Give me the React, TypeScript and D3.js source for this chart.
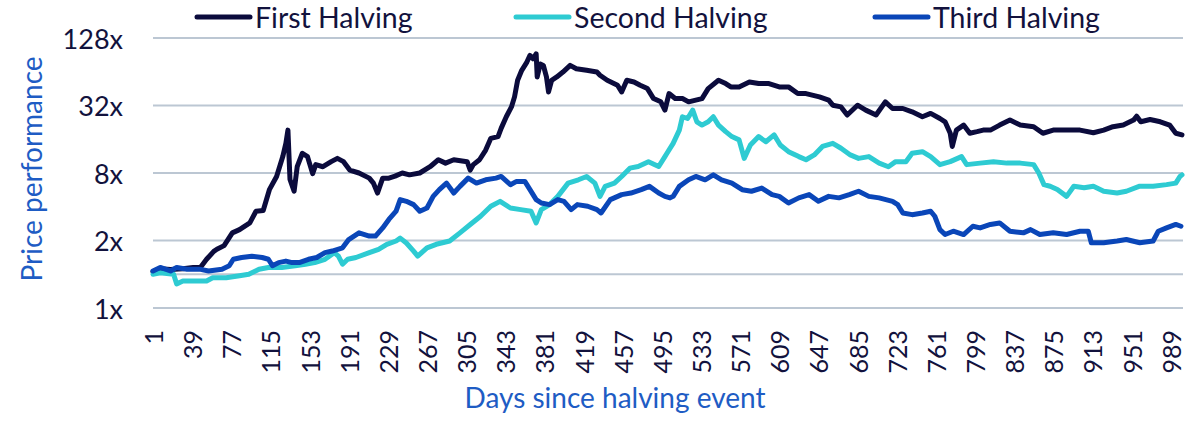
import * as d3 from 'd3';
import * as React from 'react';

// [day since halving, price multiple]
const firstHalving: [number, number][] = [
  [1, 1.05], [8, 1.12], [18, 1.1], [30, 1.12], [40, 1.15], [47, 1.15], [53, 1.36], [60, 1.6], [63, 1.67],
  [70, 1.8], [78, 2.34], [85, 2.5], [95, 2.87], [101, 3.65], [108, 3.7], [114, 5.68], [121, 7.45], [127, 11.2],
  [130, 14.7], [132, 19.3], [134, 7.0], [138, 5.5], [141, 9.1], [146, 12.0], [151, 11.2], [156, 7.9], [159, 9.5],
  [166, 9.1], [174, 10.1], [180, 10.8], [186, 10.1], [192, 8.5], [201, 8.0], [211, 7.2], [215, 6.5], [219, 5.3],
  [224, 7.2], [230, 7.2], [236, 7.5], [243, 8.0], [250, 7.7], [260, 8.0], [270, 9.1], [278, 10.5], [285, 9.8],
  [293, 10.5], [306, 10.1], [309, 8.5], [312, 9.5], [318, 10.5], [324, 12.8], [329, 16.3], [336, 16.9],
  [339, 20.0], [344, 25.4], [349, 31.1], [352, 38.2], [355, 53.7], [359, 65.9], [364, 78.1], [367, 89.5],
  [370, 83.6], [373, 92.6], [374, 57.5], [377, 75], [380, 72.9], [383, 57.5], [385, 42.3], [388, 53.7],
  [393, 57.5], [399, 63.6], [406, 72.9], [412, 68.1], [422, 65.9], [432, 63.6], [435, 59.5], [442, 53.7],
  [452, 48.5], [456, 42.3], [461, 53.7], [468, 51.9], [474, 48.5], [481, 45.3], [487, 36.9], [494, 34.5],
  [498, 29.1], [502, 40.9], [508, 36.9], [515, 36.9], [521, 34.5], [534, 36.9], [540, 45.3], [550, 53.7],
  [557, 50.2], [562, 46.9], [570, 46.9], [580, 51.9], [589, 50.2], [599, 50.2], [609, 46.9], [618, 46.9],
  [627, 40.9], [635, 40.9], [648, 38.2], [657, 35.7], [661, 32.2], [669, 31.1], [675, 26.3], [685, 32.2],
  [693, 29.1], [703, 26.3], [712, 34.5], [719, 30.1], [729, 30.1], [738, 28.1], [748, 25.4], [756, 27.2],
  [765, 24.5], [770, 22.9], [775, 18.1], [777, 13.8], [781, 19.3], [788, 21.4], [794, 18.1], [801, 18.7],
  [807, 19.3], [814, 19.3], [823, 21.4], [833, 23.7], [843, 21.4], [856, 20.7], [865, 18.1], [875, 19.3],
  [888, 19.3], [901, 19.3], [914, 18.3], [924, 19.3], [933, 20.7], [943, 21.4], [953, 23.7], [956, 25.7],
  [960, 22.9], [969, 24.0], [979, 22.9], [988, 21.4], [994, 18.1], [1000, 17.5],
];

const secondHalving: [number, number][] = [
  [1, 1.0], [8, 1.03], [21, 1.0], [24, 0.82], [30, 0.87], [40, 0.87], [53, 0.87], [59, 0.93], [72, 0.93],
  [85, 0.97], [94, 1.0], [104, 1.11], [113, 1.15], [126, 1.15], [139, 1.19], [149, 1.23], [158, 1.27],
  [168, 1.36], [177, 1.56], [181, 1.45], [185, 1.23], [190, 1.36], [198, 1.41], [211, 1.56], [220, 1.67],
  [228, 1.85], [237, 1.98], [241, 2.1], [247, 1.9], [254, 1.61], [258, 1.45], [267, 1.72], [276, 1.85],
  [289, 1.98], [299, 2.34], [309, 2.78], [319, 3.29], [329, 4.04], [338, 4.47], [348, 3.9], [358, 3.77],
  [368, 3.65], [373, 2.87], [378, 3.77], [386, 4.18], [394, 4.95], [404, 6.5], [414, 6.96], [422, 7.45],
  [430, 6.5], [435, 4.95], [440, 6.08], [449, 6.5], [456, 7.45], [464, 8.84], [472, 9.14], [482, 10.1],
  [492, 9.14], [498, 11.2], [500, 12.0], [506, 14.7], [512, 19.3], [515, 25.4], [520, 24.5], [525, 29.1],
  [529, 22.9], [534, 21.4], [540, 22.9], [545, 25.4], [550, 21.4], [557, 18.7], [563, 16.9], [570, 15.8],
  [575, 10.8], [581, 14.2], [589, 16.9], [596, 15.2], [604, 17.5], [610, 14.2], [618, 12.4], [628, 11.2],
  [635, 10.5], [643, 11.6], [651, 13.8], [661, 14.7], [669, 13.3], [678, 11.6], [686, 10.8], [696, 11.2],
  [706, 9.8], [715, 9.1], [722, 10.1], [732, 10.1], [738, 12.0], [748, 12.4], [756, 11.2], [765, 9.5],
  [775, 10.1], [786, 11.2], [791, 9.5], [804, 9.8], [817, 10.1], [830, 9.8], [843, 9.8], [856, 9.5],
  [861, 8.0], [866, 6.3], [872, 6.1], [879, 5.7], [888, 4.95], [895, 6.1], [905, 5.9], [914, 6.1],
  [924, 5.5], [937, 5.3], [946, 5.5], [959, 6.1], [972, 6.1], [985, 6.3], [994, 6.5], [998, 7.45], [1000, 7.7],
];

const thirdHalving: [number, number][] = [
  [1, 1.07], [8, 1.15], [18, 1.07], [24, 1.15], [34, 1.11], [46, 1.11], [55, 1.07], [68, 1.11], [75, 1.19],
  [79, 1.36], [87, 1.41], [97, 1.45], [107, 1.41], [113, 1.36], [117, 1.19], [123, 1.27], [130, 1.31],
  [136, 1.27], [143, 1.27], [152, 1.36], [160, 1.41], [168, 1.56], [175, 1.61], [185, 1.72], [191, 2.04],
  [201, 2.34], [211, 2.19], [217, 2.19], [224, 2.59], [230, 3.08], [237, 3.65], [241, 4.63], [247, 4.47],
  [254, 4.18], [260, 3.65], [267, 3.9], [273, 4.95], [279, 5.68], [286, 6.5], [293, 5.3], [299, 6.08],
  [307, 7.2], [315, 6.5], [324, 6.96], [334, 7.2], [339, 7.45], [348, 6.29], [354, 6.73], [362, 6.73],
  [367, 5.68], [373, 4.63], [378, 4.32], [386, 4.18], [394, 4.63], [400, 4.47], [407, 3.77], [413, 4.18],
  [423, 4.04], [432, 3.77], [436, 3.52], [445, 4.63], [456, 5.13], [465, 5.3], [475, 5.68], [483, 6.08],
  [492, 5.3], [498, 4.95], [503, 4.8], [506, 4.95], [512, 6.08], [521, 6.96], [528, 7.45], [537, 6.96],
  [545, 7.7], [553, 6.96], [563, 6.5], [573, 5.68], [582, 5.5], [592, 5.87], [602, 5.13], [609, 4.95],
  [618, 4.32], [628, 4.8], [638, 5.13], [647, 4.47], [657, 4.95], [667, 4.8], [677, 5.13], [686, 5.5],
  [696, 4.95], [706, 4.8], [719, 4.47], [724, 4.18], [729, 3.52], [738, 3.4], [748, 3.52], [756, 3.65],
  [760, 3.29], [765, 2.5], [770, 2.26], [778, 2.42], [788, 2.26], [797, 2.68], [804, 2.59], [814, 2.78],
  [823, 2.87], [833, 2.42], [846, 2.34], [853, 2.5], [862, 2.26], [875, 2.34], [888, 2.26], [901, 2.42],
  [909, 2.42], [912, 1.91], [924, 1.91], [937, 1.98], [946, 2.04], [959, 1.91], [972, 1.98], [977, 2.42],
  [985, 2.59], [994, 2.78], [999, 2.68],
];

const seriesNames = ['First Halving', 'Second Halving', 'Third Halving'];
const seriesColors = ['#0b0b3c', '#2ecbd2', '#0a46b8'];

const xTickDays = [1, 39, 77, 115, 153, 191, 229, 267, 305, 343, 381, 419, 457, 495, 533, 571, 609, 647, 685, 723, 761, 799, 837, 875, 913, 951, 989];
const yGridValues = [0.5, 1, 2, 8, 32, 128];
const yTickValues = [0.5, 2, 8, 32, 128];
const yTickLabels = ['1x', '2x', '8x', '32x', '128x'];

const width = 1200;
const height = 432;
const font = 'Lato, "Open Sans", sans-serif';
const textColor = '#12123d';
const titleColor = '#1e5cc4';

export default function App() {
  const x = d3.scaleLinear().domain([1, 1001]).range([153, 1183]);
  const y = d3.scaleLog().base(2).domain([0.5, 128]).range([308, 38]);

  const line = d3
    .line<[number, number]>()
    .x((d) => x(d[0]))
    .y((d) => y(d[1]));

  const allSeries = [firstHalving, secondHalving, thirdHalving];
  const legendX = [197, 516, 875];

  return (
    <svg
      width={width}
      height={height}
      style={{ position: 'absolute', left: 0, top: 0, background: '#fff' }}
      fontFamily={font}
    >
      {/* grid */}
      {yGridValues.map((v) => (
        <line key={v} x1={153} x2={1183} y1={y(v)} y2={y(v)} stroke="#bcc7d3" strokeWidth={2} />
      ))}

      {/* y labels */}
      {yTickValues.map((v, i) => (
        <text key={v} x={123} y={y(v)} textAnchor="end" dominantBaseline="central" fontSize={27} fill={textColor}>
          {yTickLabels[i]}
        </text>
      ))}

      {/* x labels */}
      {xTickDays.map((d) => (
        <text
          key={d}
          transform={`translate(${x(d)},330) rotate(-90)`}
          textAnchor="end"
          dominantBaseline="central"
          fontSize={25}
          fill={textColor}
        >
          {d}
        </text>
      ))}

      {/* series */}
      {allSeries.map((s, i) => (
        <path
          key={seriesNames[i]}
          d={line(s) ?? ''}
          fill="none"
          stroke={seriesColors[i]}
          strokeWidth={5}
          strokeLinejoin="round"
          strokeLinecap="round"
        />
      ))}

      {/* legend */}
      {seriesNames.map((name, i) => (
        <g key={name} transform={`translate(${legendX[i]},17)`}>
          <line x1={0} x2={53} y1={0} y2={0} stroke={seriesColors[i]} strokeWidth={5} strokeLinecap="round" />
          <text x={58} y={0} dominantBaseline="central" fontSize={28.5} fill={textColor}>
            {name}
          </text>
        </g>
      ))}

      {/* axis titles */}
      <text transform="translate(42,169) rotate(-90)" textAnchor="middle" fontSize={28} fill={titleColor}>
        Price performance
      </text>
      <text x={615} y={408} textAnchor="middle" fontSize={28} fill={titleColor}>
        Days since halving event
      </text>
    </svg>
  );
}
